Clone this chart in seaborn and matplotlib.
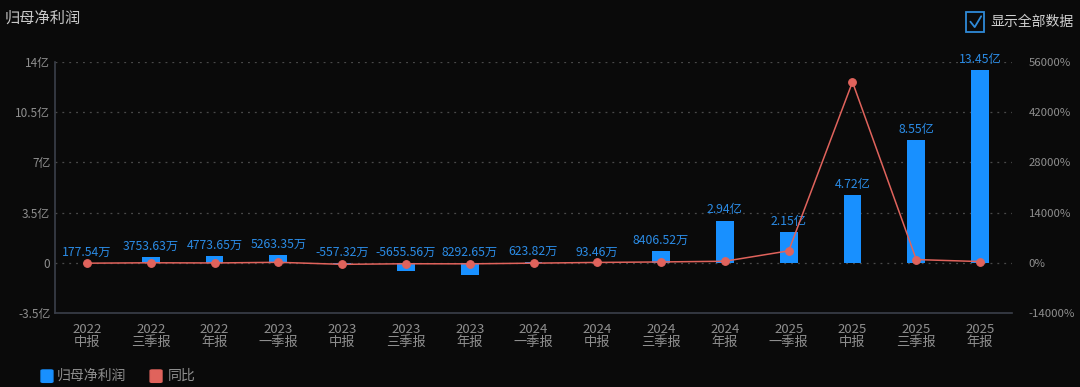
import pandas as pd
import matplotlib.pyplot as plt
import matplotlib.patches as mpatches
from matplotlib.lines import Line2D
import seaborn as sns

# Data (profit in 亿, yoy in %)
periods = ['2022\n中报', '2022\n三季报', '2022\n年报', '2023\n一季报', '2023\n中报',
           '2023\n三季报', '2023\n年报', '2024\n一季报', '2024\n中报', '2024\n三季报',
           '2024\n年报', '2025\n一季报', '2025\n中报', '2025\n三季报', '2025\n年报']
profit = [0.0178, 0.3754, 0.4774, 0.5263, -0.0557, -0.5656, -0.8293, 0.0624, 0.0093,
          0.8407, 2.94, 2.15, 4.72, 8.55, 13.45]
profit_labels = ['177.54万', '3753.63万', '4773.65万', '5263.35万', '-557.32万', '-5655.56万',
                 '8292.65万', '623.82万', '93.46万', '8406.52万', '2.94亿', '2.15亿', '4.72亿',
                 '8.55亿', '13.45亿']
yoy = [-95, 20, -30, 150, -414, -251, -274, -88, 117, 249, 455, 3347, 50400, 917, 357]

left_ticks = [-3.5, 0, 3.5, 7, 10.5, 14]
left_labels = ['-3.5亿', '0', '3.5亿', '7亿', '10.5亿', '14亿']
right_ticks = [-14000, 0, 14000, 28000, 42000, 56000]
right_labels = ['-14000%', '0%', '14000%', '28000%', '42000%', '56000%']

df = pd.DataFrame({'period': periods, 'profit': profit, 'yoy': yoy})

BG = '#0a0a0a'
BLUE = '#1890ff'
LABEL_BLUE = '#2b8ce6'
RED = '#e0635c'
GREY = '#8f8f8f'
GRID = '#4a4a4a'

sns.set_style('dark')
plt.rcParams['font.family'] = ['Noto Sans CJK SC', 'DejaVu Sans']

fig = plt.figure(figsize=(10.8, 3.87), dpi=100, facecolor=BG)
ax = fig.add_axes([0.051, 0.191, 0.886, 0.649])
ax.set_facecolor(BG)

sns.barplot(data=df, x='period', y='profit', color=BLUE, width=0.28, ax=ax,
            saturation=1, linewidth=0, edgecolor='none', zorder=2)
ax.set_xlim(-0.5, len(periods) - 0.5)
ax.set_ylim(-3.5, 14)
ax.set_yticks(left_ticks)
ax.set_yticklabels(left_labels)
ax.set_xlabel('')
ax.set_ylabel('')

for i, (v, lab) in enumerate(zip(profit, profit_labels)):
    ax.annotate(lab, (i, max(v, 0)), xytext=(0, 3), textcoords='offset points',
                ha='center', va='bottom', color=LABEL_BLUE, fontsize=8.8, zorder=5)

for t in left_ticks[1:]:
    ax.axhline(t, color=GRID, lw=0.9, ls=(0, (1.5, 4)), zorder=0)

ax.tick_params(axis='both', colors=GREY, length=0, labelsize=8.5)
ax.tick_params(axis='x', labelsize=9.5, pad=7)
for lab in ax.get_xticklabels():
    lab.set_linespacing(1.0)
ax.grid(False)
for s in ['top', 'right']:
    ax.spines[s].set_visible(False)
for s in ['left', 'bottom']:
    ax.spines[s].set_color('#3b404a')
    ax.spines[s].set_linewidth(1.2)

ax2 = ax.twinx()
sns.pointplot(data=df, x='period', y='yoy', color=RED, markers='o', markersize=5.5,
              linewidth=1.1, ax=ax2, zorder=4)
ax2.set_ylim(-14000, 56000)
ax2.set_yticks(right_ticks)
ax2.set_yticklabels(right_labels)
ax2.set_ylabel('')
ax2.set_xlabel('')
ax2.tick_params(axis='y', colors=GREY, length=0, labelsize=8.2, pad=12)
ax2.grid(False)
for s in ['top', 'right', 'left', 'bottom']:
    ax2.spines[s].set_visible(False)

# title and checkbox
fig.text(0.004, 0.952, '归母净利润', color='#c8c8c8', fontsize=11, va='center', ha='left')
box = mpatches.FancyBboxPatch((0.8945, 0.918), 0.017, 0.05, boxstyle='square,pad=0',
                              transform=fig.transFigure, fill=False, edgecolor='#2f8ad8',
                              lw=1.3)
fig.add_artist(box)
fig.add_artist(Line2D([0.8985, 0.9025, 0.9085], [0.944, 0.930, 0.958],
                      transform=fig.transFigure, color='#2f8ad8', lw=1.3))
fig.text(0.9175, 0.943, '显示全部数据', color='#d0d0d0', fontsize=10, va='center', ha='left')

# legend
fig.add_artist(mpatches.FancyBboxPatch((0.038, 0.012), 0.011, 0.032,
                                       boxstyle='round,pad=0,rounding_size=0.002',
                                       transform=fig.transFigure, color=BLUE))
fig.text(0.053, 0.028, '归母净利润', color=GREY, fontsize=10, va='center', ha='left')
fig.add_artist(mpatches.FancyBboxPatch((0.139, 0.012), 0.011, 0.032,
                                       boxstyle='round,pad=0,rounding_size=0.002',
                                       transform=fig.transFigure, color=RED))
fig.text(0.155, 0.028, '同比', color=GREY, fontsize=10, va='center', ha='left')

fig.savefig('out.png', dpi=100, facecolor=BG)
